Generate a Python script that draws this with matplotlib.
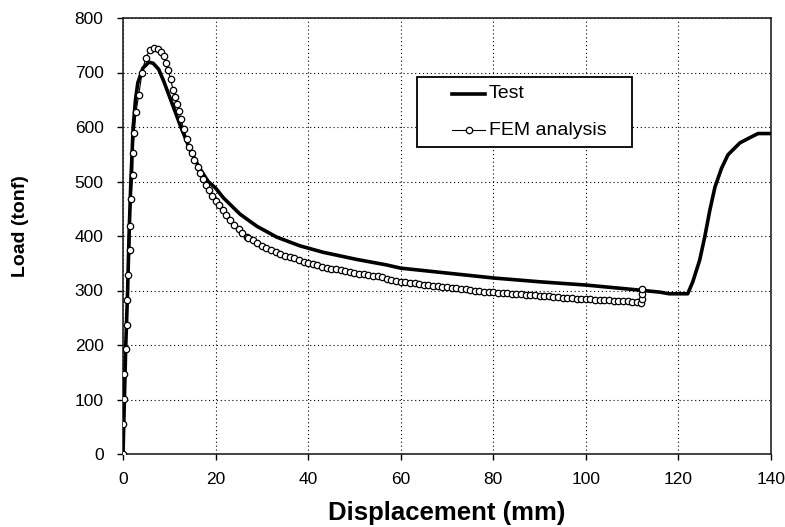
import matplotlib
matplotlib.use("Agg")
import matplotlib.pyplot as plt
from matplotlib.patches import Rectangle
from matplotlib.lines import Line2D

plt.rcParams["font.family"] = ["Liberation Sans", "DejaVu Sans"]

# --- Test curve ---
test_x = [0, 0.3, 0.6, 1.0, 1.3, 1.7, 2.2, 2.7, 3.2, 4.3, 5.6, 6.5, 7.7, 8.8,
          10.3, 12.5, 14.5, 16.5, 18.4, 20, 21.7, 25.3, 28.9, 33.2, 38.2, 43.3,
          50.5, 56.9, 60, 70, 80, 90, 100, 110, 116, 118, 122, 123.1, 124.6,
          125.7, 126.8, 127.9, 129.3, 130.7, 133.3, 135.1, 137.2, 140]
test_y = [0, 100, 200, 300, 400, 500, 600, 650, 681, 708, 719, 717, 706, 684,
          650, 600, 558, 525, 500, 488, 470, 440, 418, 398, 382, 370,
          357, 347, 341, 332, 323, 316, 310, 302, 297, 294, 294, 316, 356,
          399, 448, 490, 524, 549, 571, 579, 588, 588]

# --- FEM analysis curve ---
fem_x = [0, 0, 0.2, 0.2, 0.6, 0.8, 0.8, 1.1, 1.5, 1.5, 1.7, 2.1, 2.1, 2.4,
         2.8, 3.4, 4.1, 4.9, 5.8, 6.6, 7.5, 8.2, 8.8, 9.3, 9.7, 10.3, 10.8,
         11.2, 11.6, 12.0, 12.5, 13.1, 13.8, 14.3, 14.8, 15.4, 16.1, 16.7,
         17.3, 17.9, 18.5, 19.2, 20.0, 20.7, 21.5, 22.3, 23.1, 24.0, 25.0,
         25.8, 26.7,
         27, 28, 29, 30, 31, 32, 33, 34, 35, 36, 37, 38, 39, 40, 41, 42, 43,
         44, 45, 46, 47, 48, 49, 50, 51, 52, 53, 54, 55, 56, 57, 58, 59, 60,
         61, 62, 63, 64, 65, 66, 67, 68, 69, 70, 71, 72, 73, 74, 75, 76, 77,
         78, 79, 80, 81, 82, 83, 84, 85, 86, 87, 88, 89, 90, 91, 92, 93, 94,
         95, 96, 97, 98, 99, 100, 101, 102, 103, 104, 105, 106, 107, 108, 109,
         110, 111, 112, 112.2, 112.2, 112.2]
fem_y = [0, 55, 101, 147, 193, 237, 282, 328, 374, 418, 467, 512, 553, 589,
         627, 659, 699, 727, 741, 745, 744, 738, 730, 718, 705, 688, 668,
         655, 642, 630, 615, 597, 578, 564, 552, 540, 527, 516,
         504, 493, 484, 474, 464, 456, 448, 439, 430, 421, 412,
         405, 399,
         397, 392, 387, 382, 378, 374, 370, 367, 364, 362, 359, 356, 353, 350,
         348, 346, 344, 342, 340, 339, 337, 336, 334, 333, 331, 330, 328, 327,
         326, 324, 322, 320, 318, 316, 315, 314, 313, 312, 311, 310, 309, 308,
         307, 306, 305, 304, 303, 302, 301, 300, 299, 298, 298, 297, 296, 296,
         295, 294, 293, 293, 292, 291, 291, 290, 290, 289, 288, 288, 287, 286,
         286, 285, 285, 284, 284, 283, 283, 282, 282, 281, 281, 280, 280, 279,
         278, 277, 285, 293, 303]

x_ticks = [0, 20, 40, 60, 80, 100, 120, 140]
y_ticks = [0, 100, 200, 300, 400, 500, 600, 700, 800]

fig = plt.figure(figsize=(7.85, 5.27), dpi=100)
ax = fig.add_axes([123 / 785, 1 - 454 / 527, 648 / 785, 436 / 527])

ax.plot(test_x, test_y, color="black", lw=2.6, solid_joinstyle="round", zorder=3)
ax.plot(fem_x, fem_y, color="black", lw=0.8, marker="o", ms=4.6,
        mfc="white", mec="black", mew=0.9, zorder=4)

ax.set_xlim(0, 140)
ax.set_ylim(0, 800)
ax.set_xticks(x_ticks)
ax.set_yticks(y_ticks)
ax.tick_params(direction="out", length=4, width=1, labelsize=12.5,
               colors="black")
ax.tick_params(axis="y", pad=10)
ax.tick_params(axis="x", pad=9)

ax.grid(True, color="black", lw=0.8, linestyle=(0, (1, 2.5)))
ax.set_axisbelow(True)
for s in ax.spines.values():
    s.set_linewidth(1.2)
    s.set_color("#222222")

ax.set_xlabel("Displacement (mm)", fontsize=18.5, fontweight="bold")
ax.xaxis.set_label_coords(0.5, -0.108)
ax.set_ylabel("Load (tonf)", fontsize=14, fontweight="bold")
ax.yaxis.set_label_coords(-0.145, 0.523)

# legend box drawn like the original spreadsheet legend
ax.add_patch(Rectangle((0.4537, 0.7041), 0.3318, 0.1606, transform=ax.transAxes,
                       facecolor="white", edgecolor="black", lw=1.3, zorder=6))
ax.add_line(Line2D([0.5077, 0.5586], [0.8257, 0.8257], transform=ax.transAxes,
                   color="black", lw=2.6, zorder=7))
ax.add_line(Line2D([0.5077, 0.5586], [0.7431, 0.7431], transform=ax.transAxes,
                   color="black", lw=0.8, zorder=7))
ax.add_line(Line2D([0.5332], [0.7431], transform=ax.transAxes, marker="o",
                   ms=4.6, mfc="white", mec="black", mew=0.9, zorder=8))
ax.text(0.5648, 0.8257, "Test", transform=ax.transAxes, fontsize=14,
        va="center", ha="left", zorder=8)
ax.text(0.5648, 0.7431, "FEM analysis", transform=ax.transAxes, fontsize=14,
        va="center", ha="left", zorder=8)

fig.savefig("out.png", dpi=100)
